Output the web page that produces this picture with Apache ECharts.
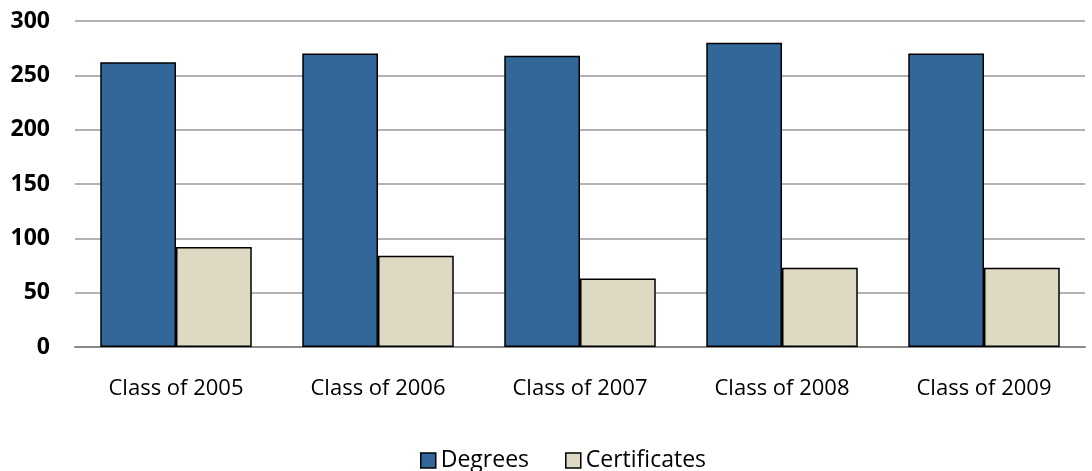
<!DOCTYPE html>
<html>
<head>
<meta charset="utf-8">
<script src="https://cdn.jsdelivr.net/npm/echarts@6/dist/echarts.min.js"></script>
<style>
  html, body { margin: 0; padding: 0; background: #fff; }
  #main { width: 1092px; height: 471px; }
</style>
</head>
<body>
<div id="main"></div>
<script>
const categories = ['Class of 2005', 'Class of 2006', 'Class of 2007', 'Class of 2008', 'Class of 2009'];
const degrees = [262, 270, 268, 280, 270];
const certificates = [92, 84, 63, 73, 73];

const chart = echarts.init(document.getElementById('main'));

var option = {
  animation: false,
  textStyle: { fontFamily: '"Open Sans", sans-serif' },
  grid: {
    left: 75,
    right: 7,
    top: 21,
    bottom: 124
  },
  legend: {
    top: 444,
    left: 415,
    itemWidth: 15,
    itemHeight: 15,
    itemGap: 36,
    itemStyle: { borderColor: '#000', borderWidth: 1.5 },
    textStyle: { fontSize: 23, color: '#000', fontFamily: '"Open Sans", sans-serif' },
    data: [
      { name: 'Degrees', icon: 'rect' },
      { name: 'Certificates', icon: 'rect' }
    ]
  },
  xAxis: {
    type: 'category',
    data: categories,
    axisLine: { lineStyle: { color: '#888', width: 2 } },
    axisTick: { show: false },
    axisLabel: { color: '#000', fontSize: 22, margin: 31 }
  },
  yAxis: {
    type: 'value',
    min: 0,
    max: 300,
    interval: 50,
    axisLine: { show: false },
    axisTick: { show: false },
    splitLine: { lineStyle: { color: '#999', width: 1.5 } },
    axisLabel: { color: '#000', fontSize: 23, fontWeight: 'bold', margin: 25 }
  },
  series: [{
    name: 'Degrees',
    type: 'bar',
    data: degrees,
    barGap: 0,
    barCategoryGap: '25%',
    itemStyle: { color: '#336699', borderColor: '#000', borderWidth: 1.5 }
  }, {
    name: 'Certificates',
    type: 'bar',
    data: certificates,
    itemStyle: { color: '#ddd9c3', borderColor: '#000', borderWidth: 1.5 }
  }]
};
chart.setOption(option);
</script>
</body>
</html>
